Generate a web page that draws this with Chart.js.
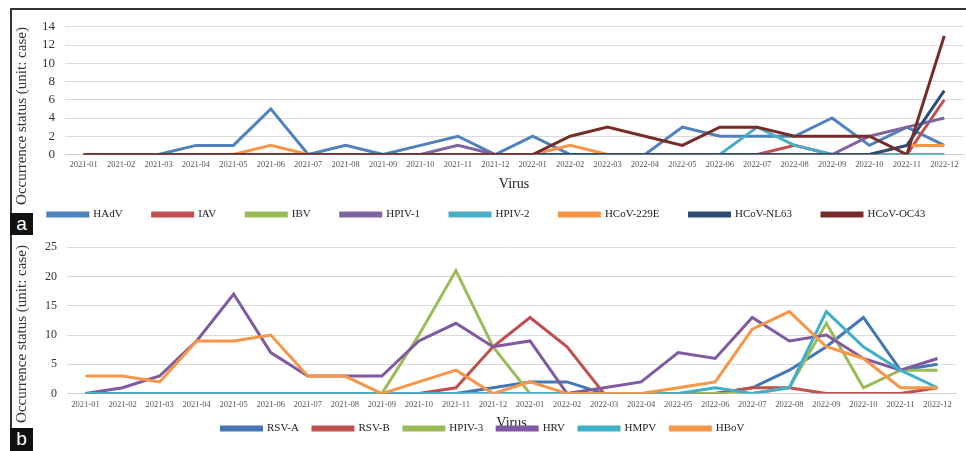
<!DOCTYPE html>
<html>
<head>
<meta charset="utf-8">
<script src="https://cdn.jsdelivr.net/npm/chart.js@4.4.1/dist/chart.umd.min.js"></script>
<style>
    body { margin: 0; background: #fff; width: 966px; height: 451px; overflow: hidden; position: relative; font-family: "Liberation Serif", serif; }
    #frame { position: absolute; left: 10px; top: 8px; width: 960px; height: 441px; border-top: 2px solid #333; border-left: 2px solid #333; border-bottom: 1px solid #ddd; }
    .panel { position: absolute; left: 10px; }
    #wrapA { top: 9px; width: 956px; height: 221px; }
    #wrapB { top: 230px; width: 956px; height: 214px; }
    .ytitle { position: absolute; transform: translate(-50%, -50%) rotate(-90deg); white-space: nowrap; font-size: 15px; color: #333; }
    .tag { position: absolute; left: 10px; width: 23px; background: #111; color: #fff; font-family: "Liberation Sans", sans-serif; font-size: 19px; text-align: center; }
</style>
</head>
<body>
<div id="frame"></div>
<div class="panel" id="wrapA"><canvas id="chartA"></canvas></div>
<div class="panel" id="wrapB"><canvas id="chartB"></canvas></div>
<div class="ytitle" style="left:21px; top:116px;">Occurrence status (unit: case)</div>
<div class="ytitle" style="left:21px; top:334px;">Occurrence status (unit: case)</div>
<div class="tag" style="top:213px; height:22px; line-height:21px;">a</div>
<div class="tag" style="top:428px; height:23px; line-height:22px;">b</div>
<script>
"use strict";

const months = ['2021-01', '2021-02', '2021-03', '2021-04', '2021-05', '2021-06', '2021-07', '2021-08', '2021-09', '2021-10', '2021-11', '2021-12',
    '2022-01', '2022-02', '2022-03', '2022-04', '2022-05', '2022-06', '2022-07', '2022-08', '2022-09', '2022-10', '2022-11', '2022-12']

const yTicksA = [0, 2, 4, 6, 8, 10, 12, 14]
const yTicksB = [0, 5, 10, 15, 20, 25]

// panel a
const hadv = [0, 0, 0, 1, 1, 5, 0, 1, 0, 1, 2, 0, 2, 0, 0, 0, 3, 2, 2, 2, 4, 1, 3, 1]
const iav = [0, 0, 0, 0, 0, 0, 0, 0, 0, 0, 0, 0, 0, 0, 0, 0, 0, 0, 0, 1, 0, 0, 0, 6]
const ibv = [0, 0, 0, 0, 0, 0, 0, 0, 0, 0, 0, 0, 0, 0, 0, 0, 0, 0, 0, 0, 0, 0, 0, 0]
const hpiv1 = [0, 0, 0, 0, 0, 0, 0, 0, 0, 0, 1, 0, 0, 0, 0, 0, 0, 0, 0, 0, 0, 2, 3, 4]
const hpiv2 = [0, 0, 0, 0, 0, 0, 0, 0, 0, 0, 0, 0, 0, 0, 0, 0, 0, 0, 3, 1, 0, 0, 0, 0]
const hcov229e = [0, 0, 0, 0, 0, 1, 0, 0, 0, 0, 0, 0, 0, 1, 0, 0, 0, 0, 0, 0, 0, 0, 1, 1]
const hcovNL63 = [0, 0, 0, 0, 0, 0, 0, 0, 0, 0, 0, 0, 0, 0, 0, 0, 0, 0, 0, 0, 0, 0, 1, 7]
const hcovOC43 = [0, 0, 0, 0, 0, 0, 0, 0, 0, 0, 0, 0, 0, 2, 3, 2, 1, 3, 3, 2, 2, 2, 0, 13]

// panel b
const rsvA = [0, 0, 0, 0, 0, 0, 0, 0, 0, 0, 0, 1, 2, 2, 0, 0, 0, 0, 1, 4, 8, 13, 4, 5]
const rsvB = [0, 0, 0, 0, 0, 0, 0, 0, 0, 0, 1, 8, 13, 8, 0, 0, 0, 0, 1, 1, 0, 0, 0, 1]
const hpiv3 = [0, 0, 0, 0, 0, 0, 0, 0, 0, 10, 21, 8, 0, 0, 0, 0, 0, 0, 0, 1, 12, 1, 4, 4]
const hrv = [0, 1, 3, 9, 17, 7, 3, 3, 3, 9, 12, 8, 9, 0, 1, 2, 7, 6, 13, 9, 10, 6, 4, 6]
const hmpv = [0, 0, 0, 0, 0, 0, 0, 0, 0, 0, 0, 0, 0, 0, 0, 0, 0, 1, 0, 1, 14, 8, 4, 1]
const hbov = [3, 3, 2, 9, 9, 10, 3, 3, 0, 2, 4, 0, 2, 0, 0, 0, 1, 2, 11, 14, 8, 6, 1, 1]

const seriesA = [
    ['HAdV', hadv, '#4f81bd'], ['IAV', iav, '#c0504d'], ['IBV', ibv, '#9bbb59'], ['HPIV-1', hpiv1, '#8064a2'],
    ['HPIV-2', hpiv2, '#4bacc6'], ['HCoV-229E', hcov229e, '#f79646'], ['HCoV-NL63', hcovNL63, '#2c4d75'], ['HCoV-OC43', hcovOC43, '#772c2a']
]
const seriesB = [
    ['RSV-A', rsvA, '#4575b4'], ['RSV-B', rsvB, '#c0504d'], ['HPIV-3', hpiv3, '#9bbb59'],
    ['HRV', hrv, '#7f5aa2'], ['HMPV', hmpv, '#3fb0c9'], ['HBoV', hbov, '#f79646']
]

const serif = 'Liberation Serif'

const makeDatasets = series => series.map(([label, data, color], i) => ({
    label, data,
    borderColor: color, backgroundColor: color,
    borderWidth: 3, pointRadius: 0, tension: 0,
    order: -i
}))

const makeChart = (id, series, yTicks, opts) => new Chart(id, {
    type: 'line',
    data: { labels: months, datasets: makeDatasets(series) },
    options: {
        responsive: true,
        maintainAspectRatio: false,
        animation: false,
        layout: { padding: opts.padding },
        plugins: {
            tooltip: { enabled: false },
            legend: {
                position: 'bottom',
                labels: {
                    boxWidth: 40, boxHeight: 3, padding: opts.legendPad,
                    color: '#222', font: { family: serif, size: 11 },
                    sort: (a, b) => a.datasetIndex - b.datasetIndex
                }
            }
        },
        scales: {
            x: {
                offset: true,
                grid: { display: false, drawTicks: false },
                border: { color: '#d0d0d0' },
                ticks: { color: '#555', font: { family: serif, size: 8.5 }, maxRotation: 0, autoSkip: false, padding: opts.xTickPad },
                title: { display: true, text: 'Virus', color: '#222', font: { family: serif, size: 14 }, padding: opts.titlePad }
            },
            y: {
                min: yTicks[0], max: yTicks[yTicks.length - 1],
                afterBuildTicks: scale => { scale.ticks = yTicks.map(value => ({ value })) },
                afterFit: scale => { scale.width = opts.yWidth },
                grid: { color: '#dadada', drawTicks: false },
                border: { display: false },
                ticks: { autoSkip: false, color: '#333', font: { family: serif, size: opts.yFont }, padding: 10 }
            }
        }
    }
})

makeChart('chartA', seriesA, yTicksA, {
    padding: { top: 0, right: 3, left: 0, bottom: 0 }, legendPad: 30, xTickPad: 5,
    titlePad: { top: 1, bottom: -13.5 }, yWidth: 55, yFont: 13
})
makeChart('chartB', seriesB, yTicksB, {
    padding: { top: 0, right: 10, left: 0, bottom: 0 }, legendPad: 14, xTickPad: 6,
    titlePad: { top: -0.6, bottom: -23 }, yWidth: 57, yFont: 12
})
</script>
</body>
</html>
